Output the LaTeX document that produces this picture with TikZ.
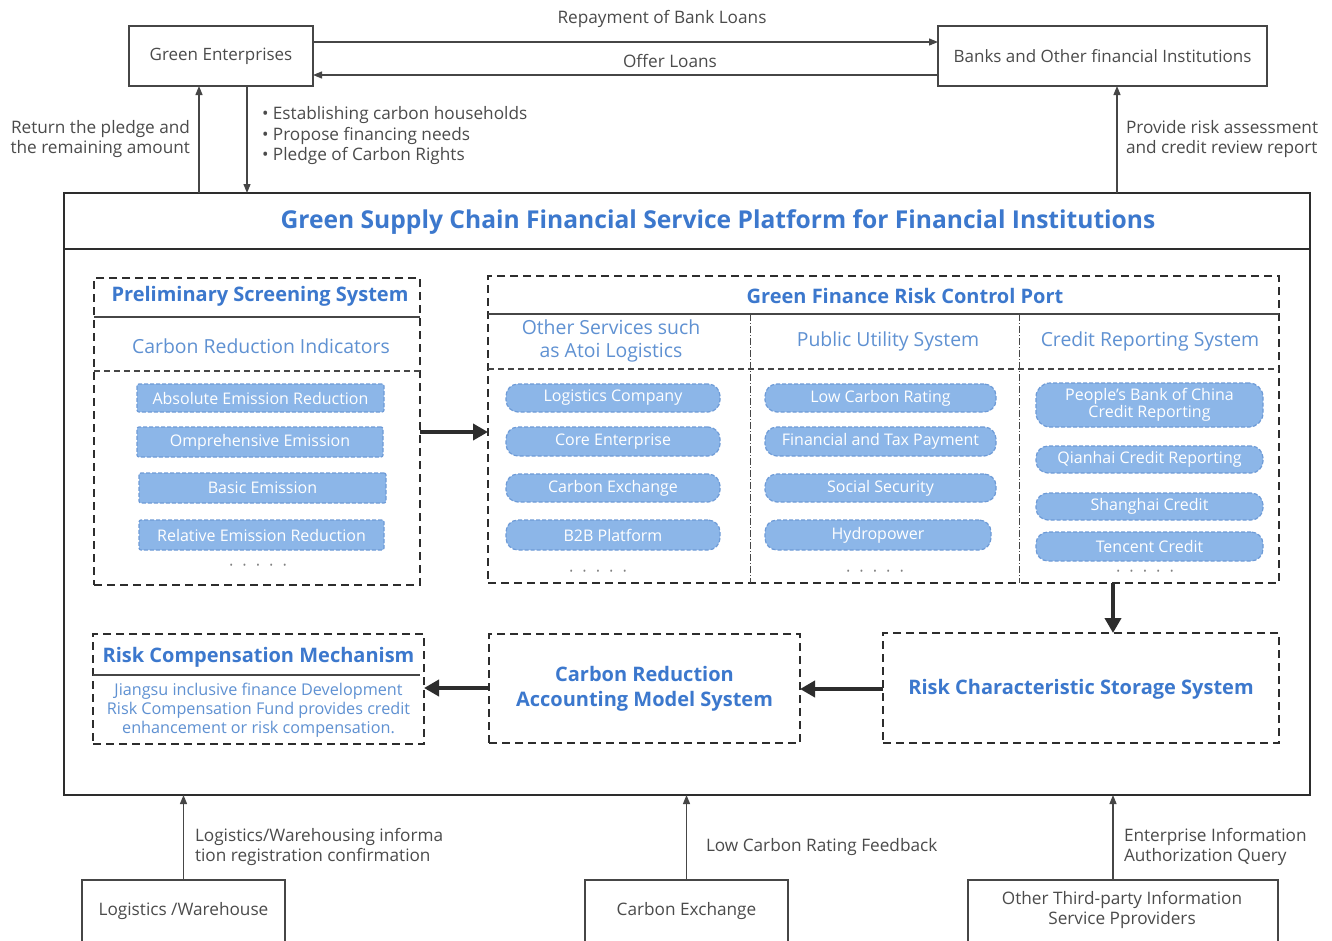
\documentclass[tikz,border=0pt]{standalone}
\usepackage{fontspec}
\setmainfont{Open Sans}
\usetikzlibrary{arrows.meta,calc}
\newcommand{\fsz}[2]{\fontsize{#1}{#2}\selectfont}
\newcommand{\dotrow}{•\hspace{10pt}•\hspace{10pt}•\hspace{10pt}•\hspace{10pt}•}
\definecolor{linegray}{RGB}{70,70,70}
\definecolor{darkline}{RGB}{45,45,45}
\definecolor{textgray}{RGB}{75,75,75}
\definecolor{titleblue}{RGB}{60,120,205}
\definecolor{subblue}{RGB}{95,145,210}
\definecolor{pillfill}{RGB}{140,182,232}
\definecolor{pillline}{RGB}{110,155,215}
\begin{document}
\begin{tikzpicture}[x=1pt,y=-1pt,
  every node/.style={inner sep=0pt,outer sep=0pt},
  box/.style={draw=linegray,line width=1.4pt,fill=white,font=\fsz{17}{20},text=textgray,align=center},
  dbox/.style={draw=darkline,line width=2.6pt,dash pattern=on 8pt off 5pt},
  pill/.style={fill=pillfill,draw=pillline,line width=1.2pt,dash pattern=on 4pt off 2pt,text=white,font=\fsz{16}{17},align=center},
  lbl/.style={font=\fsz{17.2}{20.5},text=textgray},
  ttl/.style={font=\bfseries\fsz{20}{23},text=titleblue,align=center},
  sub/.style={font=\fsz{19.4}{23},text=subblue,align=center},
  dots/.style={font=\fsz{9}{10},text=textgray!70},
  tarrow/.style={draw=linegray,line width=1.2pt,-{Triangle[length=9pt,width=7pt]}},
  barrow/.style={draw=darkline,line width=4pt,-{Triangle[length=15pt,width=16pt]}}]
\useasboundingbox (0,0) rectangle (1332,940);
\fill[white] (0,0) rectangle (1332,940);

% top boxes
\node[box,minimum width=184,minimum height=60] (ge) at (221,56) {Green Enterprises};
\node[box,minimum width=329,minimum height=60] (bk) at (1102.5,56) {Banks and Other financial Institutions};

% platform
\node[draw=darkline,line width=2.6pt,minimum width=1246,minimum height=602] (plat) at (687,494) {};
\draw[darkline,line width=2.6pt] (plat.west |- 0,249) -- (plat.east |- 0,249);
\node[font=\bfseries\fsz{24.6}{28},text=titleblue] (ptitle) at (718,222) {Green Supply Chain Financial Service Platform for Financial Institutions};

% top connectors
\draw[tarrow] (ge.east |- 0,42) -- (bk.west |- 0,42);
\node[lbl] (l1) at (662,19) {Repayment of Bank Loans};
\draw[tarrow] (bk.west |- 0,75) -- (ge.east |- 0,75);
\node[lbl] (l2) at (670,61) {Offer Loans};
\draw[tarrow] (plat.north -| 199,0) -- (ge.south -| 199,0);
\node[lbl,anchor=east,align=right] (l3) at (190,139) {Return the pledge and\\the remaining amount};
\draw[tarrow] (ge.south -| 247,0) -- (plat.north -| 247,0);
\node[lbl,anchor=west,align=left] (l4) at (262,136) {• Establishing carbon households\\• Propose financing needs\\• Pledge of Carbon Rights};
\draw[tarrow] (plat.north -| 1117,0) -- (bk.south -| 1117,0);
\node[lbl,anchor=west,align=left] (l5) at (1126,139) {Provide risk assessment\\and credit review report};

% Preliminary Screening System
\node[dbox,minimum width=326,minimum height=307] (ps) at (257,431.5) {};
\node[ttl] (pst) at (260,296) {Preliminary Screening System};
\draw[linegray,line width=1.8pt] (ps.west |- 0,317) -- (ps.east |- 0,317);
\node[sub] (pss) at (261,346) {Carbon Reduction Indicators};
\draw[linegray,line width=1.4pt,dash pattern=on 6pt off 4pt] (ps.west |- 0,371) -- (ps.east |- 0,371);
\node[pill,rounded corners=2pt,minimum width=247,minimum height=28] (p1) at (260.5,398) {Absolute Emission Reduction};
\node[pill,rounded corners=2pt,minimum width=246,minimum height=30] (p2) at (260,442) {Omprehensive Emission};
\node[pill,rounded corners=2pt,minimum width=247,minimum height=30] (p3) at (262.5,488) {Basic Emission};
\node[pill,rounded corners=2pt,minimum width=245,minimum height=30] (p4) at (261.5,535) {Relative Emission Reduction};
\node[dots] (d1) at (258,566) {\dotrow};

% Green Finance Risk Control Port
\node[dbox,minimum width=791,minimum height=307] (gf) at (883.5,429.5) {};
\node[ttl] (gft) at (905,296) {Green Finance Risk Control Port};
\draw[linegray,line width=1.8pt] (gf.west |- 0,314) -- (gf.east |- 0,314);
\draw[linegray,line width=1.4pt,dash pattern=on 6pt off 4pt] (gf.west |- 0,369) -- (gf.east |- 0,369);
\draw[linegray,line width=1pt,dash pattern=on 7pt off 2pt on 1pt off 2pt] (750,314) -- (gf.south -| 750,0);
\draw[linegray,line width=1pt,dash pattern=on 7pt off 2pt on 1pt off 2pt] (1019,314) -- (gf.south -| 1019,0);
\node[sub] (c1) at (611,341) {Other Services such\\as Atoi Logistics};
\node[sub] (c2) at (888,341) {Public Utility System};
\node[sub] (c3) at (1150,341) {Credit Reporting System};
% column 1
\node[pill,rounded corners=12pt,minimum width=214,minimum height=28] (a1) at (613,398) {Logistics Company};
\node[pill,rounded corners=12pt,minimum width=214,minimum height=29] (a2) at (613,441.5) {Core Enterprise};
\node[pill,rounded corners=12pt,minimum width=214,minimum height=28] (a3) at (613,488) {Carbon Exchange};
\node[pill,rounded corners=12pt,minimum width=214,minimum height=30] (a4) at (613,535) {B2B Platform};
\node[dots] (d2) at (598,572) {\dotrow};
% column 2
\node[pill,rounded corners=12pt,minimum width=231,minimum height=28] (b1) at (880.5,398) {Low Carbon Rating};
\node[pill,rounded corners=12pt,minimum width=231,minimum height=29] (b2) at (880.5,441.5) {Financial and Tax Payment};
\node[pill,rounded corners=12pt,minimum width=231,minimum height=28] (b3) at (880.5,488) {Social Security};
\node[pill,rounded corners=12pt,minimum width=226,minimum height=30] (b4) at (878,535) {Hydropower};
\node[dots] (d3) at (875,572) {\dotrow};
% column 3
\node[pill,rounded corners=14pt,minimum width=227,minimum height=44] (e1) at (1149.5,405) {People's Bank of China\\Credit Reporting};
\node[pill,rounded corners=12pt,minimum width=227,minimum height=27] (e2) at (1149.5,459.5) {Qianhai Credit Reporting};
\node[pill,rounded corners=12pt,minimum width=227,minimum height=27] (e3) at (1149.5,506.5) {Shanghai Credit};
\node[pill,rounded corners=12pt,minimum width=227,minimum height=29] (e4) at (1149.5,546.5) {Tencent Credit};
\node[dots] (d4) at (1145,572) {\dotrow};

% lower systems
\node[dbox,minimum width=396,minimum height=110] (rcss) at (1081,688) {};
\node[ttl] (rcsst) at (1081,689) {Risk Characteristic Storage System};
\node[dbox,minimum width=311,minimum height=109] (cram) at (644.5,688.5) {};
\node[ttl,font=\bfseries\fsz{20}{25}] (cramt) at (644.5,689) {Carbon Reduction\\Accounting Model System};
\node[dbox,minimum width=331,minimum height=110] (rcm) at (258.5,689) {};
\node[ttl] (rcmt) at (258.5,657) {Risk Compensation Mechanism};
\draw[linegray,line width=1.8pt] (rcm.west |- 0,675) -- (420,675);
\node[font=\fsz{16.2}{19},text=subblue,align=center] (rcmx) at (258.5,710) {Jiangsu inclusive finance Development\\Risk Compensation Fund provides credit\\enhancement or risk compensation.};

% thick arrows
\draw[barrow] (ps.east |- 0,432) -- (gf.west |- 0,432);
\draw[barrow] (gf.south -| 1113,0) -- (rcss.north -| 1113,0);
\draw[barrow] (rcss.west |- 0,689) -- (cram.east |- 0,689);
\draw[barrow] (cram.west |- 0,688) -- (rcm.east |- 0,688);

% bottom boxes
\node[box,minimum width=203,minimum height=66] (lw) at (183.5,913) {};
\node[lbl] (lwt) at (183.5,911) {Logistics /Warehouse};
\node[box,minimum width=203,minimum height=66] (ce) at (686.5,913) {};
\node[lbl] (cet) at (686.5,911) {Carbon Exchange};
\node[box,minimum width=310,minimum height=66] (ot) at (1123,913) {};
\node[lbl,align=center] (ott) at (1122,910) {Other Third-party Information\\Service Pproviders};

\draw[tarrow] (lw.north) -- (plat.south -| lw.north);
\node[lbl,anchor=west,align=left] (bl1) at (195,847) {Logistics/Warehousing informa\\tion registration confirmation};
\draw[tarrow] (ce.north) -- (plat.south -| ce.north);
\node[lbl,anchor=west] (bl2) at (706,847) {Low Carbon Rating Feedback};
\draw[tarrow] (ot.north -| 1113,0) -- (plat.south -| 1113,0);
\node[lbl,anchor=west,align=left] (bl3) at (1124,847) {Enterprise Information\\Authorization Query};
\end{tikzpicture}
\end{document}
